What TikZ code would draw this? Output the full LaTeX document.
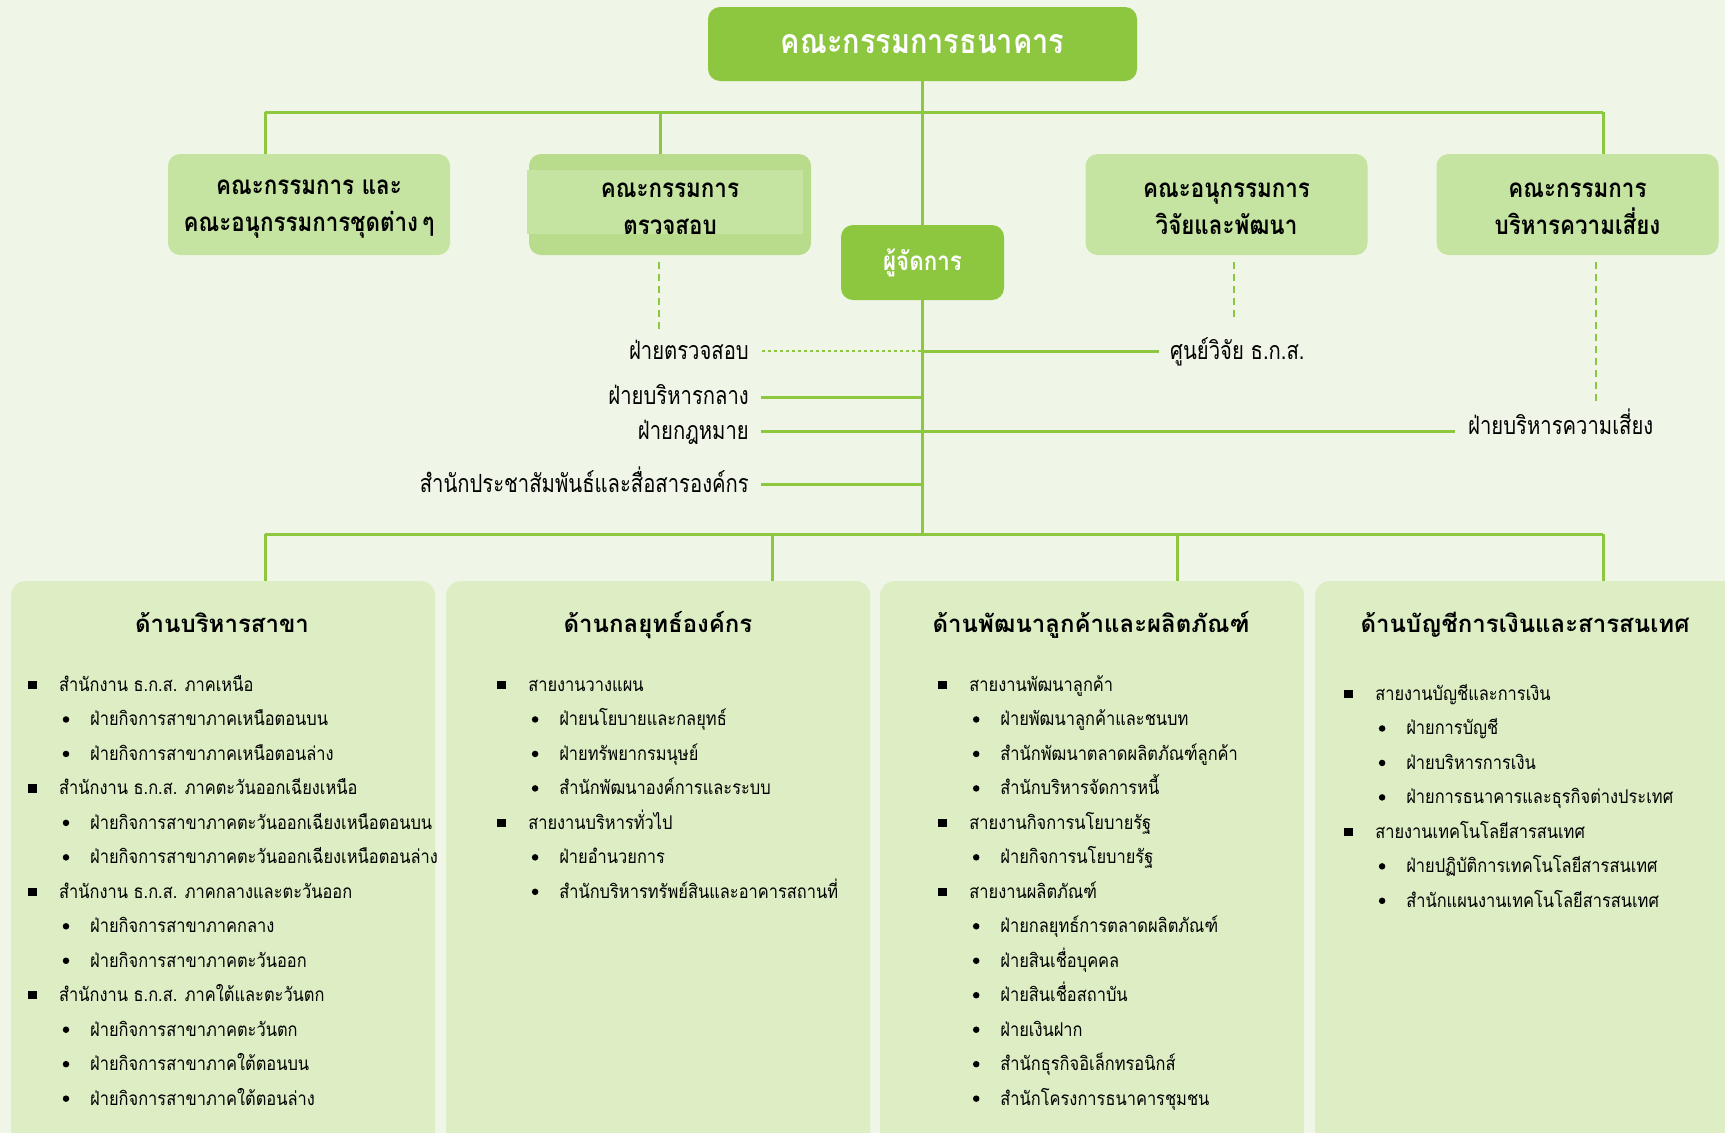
\documentclass[tikz,border=0pt]{standalone}
\usepackage{fontspec}
\newfontfamily\thaiF[Script=Thai]{Loma}
\newfontfamily\thaiTop[Script=Thai,FakeStretch=0.85]{Loma}
\newfontfamily\thaiBox[Script=Thai,FakeStretch=0.86]{Loma}
\newfontfamily\thaiLbl[Script=Thai,FakeStretch=0.81]{Loma}
\newfontfamily\thaiItem[Script=Thai,FakeStretch=0.865]{Loma}
\definecolor{bgc}{HTML}{EFF6E7}
\definecolor{dkg}{HTML}{8DC63F}
\definecolor{mdg}{HTML}{C5E3A1}
\definecolor{mdd}{HTML}{B9DC8C}
\definecolor{ltg}{HTML}{DDEDC4}
\begin{document}
\begin{tikzpicture}[x=1pt,y=-1pt,
  conn/.style={draw=dkg,line width=3pt},
  trunkline/.style={draw=dkg,line width=2.5pt},
  dashline/.style={draw=dkg,line width=2pt,dash pattern=on 7pt off 5pt},
  dotline/.style={draw=dkg,line width=2.5pt,dash pattern=on 3pt off 3pt},
  darkbox/.style={fill=dkg,rounded corners=12pt,inner sep=0pt,text=white},
  midbox/.style={fill=mdg,rounded corners=12pt,minimum width=282pt,minimum height=101pt,inner sep=0pt},
  boxtxt/.style={align=center,font=\thaiBox\bfseries\fontsize{26}{37.5}\selectfont,inner sep=0pt},
  lbl/.style={font=\thaiLbl\fontsize{25}{28}\selectfont,inner sep=0pt},
  bigbox/.style={fill=ltg,rounded corners=14pt,inner sep=0pt},
  ttl/.style={font=\thaiF\bfseries\fontsize{24}{28}\selectfont,inner sep=0pt,anchor=base},
  items/.style={font=\thaiItem\fontsize{19}{22}\selectfont,inner sep=0pt,anchor=base west,xshift=26.5pt},
  itemd/.style={font=\thaiItem\fontsize{19}{22}\selectfont,inner sep=0pt,anchor=base west,xshift=57.5pt},
  buls/.style={fill=black,minimum size=8.5pt,inner sep=0pt},
  buld/.style={circle,fill=black,minimum size=6.5pt,inner sep=0pt,xshift=33.5pt}
]
\useasboundingbox (0,0) rectangle (1725,1133);
\fill[bgc] (0,0) rectangle (1725,1133);
\clip (0,0) rectangle (1725,1133);

% top board
\node[darkbox,minimum width=429pt,minimum height=74pt,font=\thaiTop\bfseries\fontsize{34}{38}\selectfont] (board) at (922.5,44) {คณะกรรมการธนาคาร};

% committees
\node[midbox] (c1) at (309,204.5) {};
\node[boxtxt] (c1t) at (309,209) {คณะกรรมการ และ\\คณะอนุกรรมการชุดต่าง\,ๆ};
\node[midbox,fill=mdd] (c2) at (670,204.5) {};
\fill[mdg] (527,170) rectangle (803,234);
\node[boxtxt] (c2t) at (670,209) {คณะกรรมการ\\ตรวจสอบ};
\node[midbox] (c3) at (1226.5,204.5) {};
\node[boxtxt] (c3t) at (1226.5,209) {คณะอนุกรรมการ\\วิจัยและพัฒนา};
\node[midbox] (c4) at (1577.5,204.5) {};
\node[boxtxt] (c4t) at (1577.5,209) {คณะกรรมการ\\บริหารความเสี่ยง};

% manager
\node[darkbox,minimum width=163pt,minimum height=75pt,font=\thaiBox\bfseries\fontsize{26}{30}\selectfont] (mgr) at (922.5,262.5) {ผู้จัดการ};

% coordinates of junctions
\coordinate (trunk) at (922.5,0);
\coordinate (h1l) at (265,112);
\coordinate (h1r) at (1603,112);
\coordinate (v2) at (660,112);
\coordinate (h2l) at (265,534);
\coordinate (h2r) at (1603,534);
\coordinate (v22) at (772,534);
\coordinate (v23) at (1177,534);

% top connectors
\draw[trunkline] (board.south) -- (mgr.north);
\draw[conn] (h1l) -- (h1r);
\draw[conn] (h1l) -- (h1l |- c1.north);
\draw[conn] (v2) -- (v2 |- c2.north);
\draw[conn] (h1r) -- (h1r |- c4.north);

% dashed links
\coordinate (dA) at (659,330);
\coordinate (dB) at (1234,319);
\coordinate (dC) at (1596,404);
\draw[dashline] ([yshift=-7pt]c2.south -| dA) -- (dA);
\draw[dashline] ([yshift=-7pt]c3.south -| dB) -- (dB);
\draw[dashline] ([yshift=-7pt]c4.south -| dC) -- (dC);

% labels
\node[lbl,anchor=base east] (lAud) at (749,359) {ฝ่ายตรวจสอบ};
\node[lbl,anchor=base east] (lCen) at (749,404) {ฝ่ายบริหารกลาง};
\node[lbl,anchor=base east] (lLaw) at (749,439) {ฝ่ายกฎหมาย};
\node[lbl,anchor=base east] (lPR) at (749,492) {สำนักประชาสัมพันธ์และสื่อสารองค์กร};
\node[lbl,anchor=base west] (lRes) at (1170,359) {ศูนย์วิจัย ธ.ก.ส.};
\node[lbl,anchor=base west] (lRisk) at (1468,434) {ฝ่ายบริหารความเสี่ยง};

\coordinate (pAud) at (762,351);
\coordinate (pRes) at (1159,351);
\coordinate (pCen) at (761,397);
\coordinate (pLaw) at (761,431);
\coordinate (pRisk) at (1455,431);
\coordinate (pPR) at (761,484);

\draw[trunkline] (mgr.south) -- (trunk |- h2l);
\draw[dotline] (pAud) -- (pAud -| trunk);
\draw[conn] (pAud -| trunk) -- (pRes);
\draw[conn] (pCen) -- (pCen -| trunk);
\draw[conn] (pLaw) -- (pRisk);
\draw[conn] (pPR) -- (pPR -| trunk);

% bottom connectors
\draw[conn] (h2l) -- (h2r);

% big boxes
\node[bigbox,minimum width=424pt,minimum height=600pt,anchor=north west] (bA) at (11,581) {};
\node[bigbox,minimum width=424pt,minimum height=600pt,anchor=north west] (bB) at (446,581) {};
\node[bigbox,minimum width=424pt,minimum height=600pt,anchor=north west] (bC) at (880,581) {};
\node[bigbox,minimum width=424pt,minimum height=600pt,anchor=north west] (bD) at (1315,581) {};

\draw[conn] (h2l) -- (h2l |- bA.north);
\draw[conn] (v22) -- (v22 |- bB.north);
\draw[conn] (v23) -- (v23 |- bC.north);
\draw[conn] (h2r) -- (h2r |- bD.north);

\node[ttl] (tA) at (222,632) {ด้านบริหารสาขา};
\node[ttl] (tB) at (658,632) {ด้านกลยุทธ์องค์กร};
\node[ttl] (tC) at (1091,632) {ด้านพัฒนาลูกค้าและผลิตภัณฑ์};
\node[ttl] (tD) at (1525,632) {ด้านบัญชีการเงินและสารสนเทศ};

\foreach \k/\t [count=\i] in {
 s/สำนักงาน ธ.ก.ส. ภาคเหนือ,
 d/ฝ่ายกิจการสาขาภาคเหนือตอนบน,
 d/ฝ่ายกิจการสาขาภาคเหนือตอนล่าง,
 s/สำนักงาน ธ.ก.ส. ภาคตะวันออกเฉียงเหนือ,
 d/ฝ่ายกิจการสาขาภาคตะวันออกเฉียงเหนือตอนบน,
 d/ฝ่ายกิจการสาขาภาคตะวันออกเฉียงเหนือตอนล่าง,
 s/สำนักงาน ธ.ก.ส. ภาคกลางและตะวันออก,
 d/ฝ่ายกิจการสาขาภาคกลาง,
 d/ฝ่ายกิจการสาขาภาคตะวันออก,
 s/สำนักงาน ธ.ก.ส. ภาคใต้และตะวันตก,
 d/ฝ่ายกิจการสาขาภาคตะวันตก,
 d/ฝ่ายกิจการสาขาภาคใต้ตอนบน,
 d/ฝ่ายกิจการสาขาภาคใต้ตอนล่าง}{
  \node[bul\k] (aB\i) at (32.5,{685+34.47*(\i-1)}) {};
  \node[item\k] (aT\i) at (32.5,{691.5+34.47*(\i-1)}) {\t};
}

\foreach \k/\t [count=\i] in {
 s/สายงานวางแผน,
 d/ฝ่ายนโยบายและกลยุทธ์,
 d/ฝ่ายทรัพยากรมนุษย์,
 d/สำนักพัฒนาองค์การและระบบ,
 s/สายงานบริหารทั่วไป,
 d/ฝ่ายอำนวยการ,
 d/สำนักบริหารทรัพย์สินและอาคารสถานที่}{
  \node[bul\k] (bB\i) at (501.6,{685+34.47*(\i-1)}) {};
  \node[item\k] (bT\i) at (501.6,{691.5+34.47*(\i-1)}) {\t};
}

\foreach \k/\t [count=\i] in {
 s/สายงานพัฒนาลูกค้า,
 d/ฝ่ายพัฒนาลูกค้าและชนบท,
 d/สำนักพัฒนาตลาดผลิตภัณฑ์ลูกค้า,
 d/สำนักบริหารจัดการหนี้,
 s/สายงานกิจการนโยบายรัฐ,
 d/ฝ่ายกิจการนโยบายรัฐ,
 s/สายงานผลิตภัณฑ์,
 d/ฝ่ายกลยุทธ์การตลาดผลิตภัณฑ์,
 d/ฝ่ายสินเชื่อบุคคล,
 d/ฝ่ายสินเชื่อสถาบัน,
 d/ฝ่ายเงินฝาก,
 d/สำนักธุรกิจอิเล็กทรอนิกส์,
 d/สำนักโครงการธนาคารชุมชน}{
  \node[bul\k] (cB\i) at (942.7,{685+34.47*(\i-1)}) {};
  \node[item\k] (cT\i) at (942.7,{691.5+34.47*(\i-1)}) {\t};
}

\foreach \k/\t [count=\i] in {
 s/สายงานบัญชีและการเงิน,
 d/ฝ่ายการบัญชี,
 d/ฝ่ายบริหารการเงิน,
 d/ฝ่ายการธนาคารและธุรกิจต่างประเทศ,
 s/สายงานเทคโนโลยีสารสนเทศ,
 d/ฝ่ายปฏิบัติการเทคโนโลยีสารสนเทศ,
 d/สำนักแผนงานเทคโนโลยีสารสนเทศ}{
  \node[bul\k] (dB\i) at (1348.6,{694+34.47*(\i-1)}) {};
  \node[item\k] (dT\i) at (1348.6,{700.5+34.47*(\i-1)}) {\t};
}
\end{tikzpicture}
\end{document}
